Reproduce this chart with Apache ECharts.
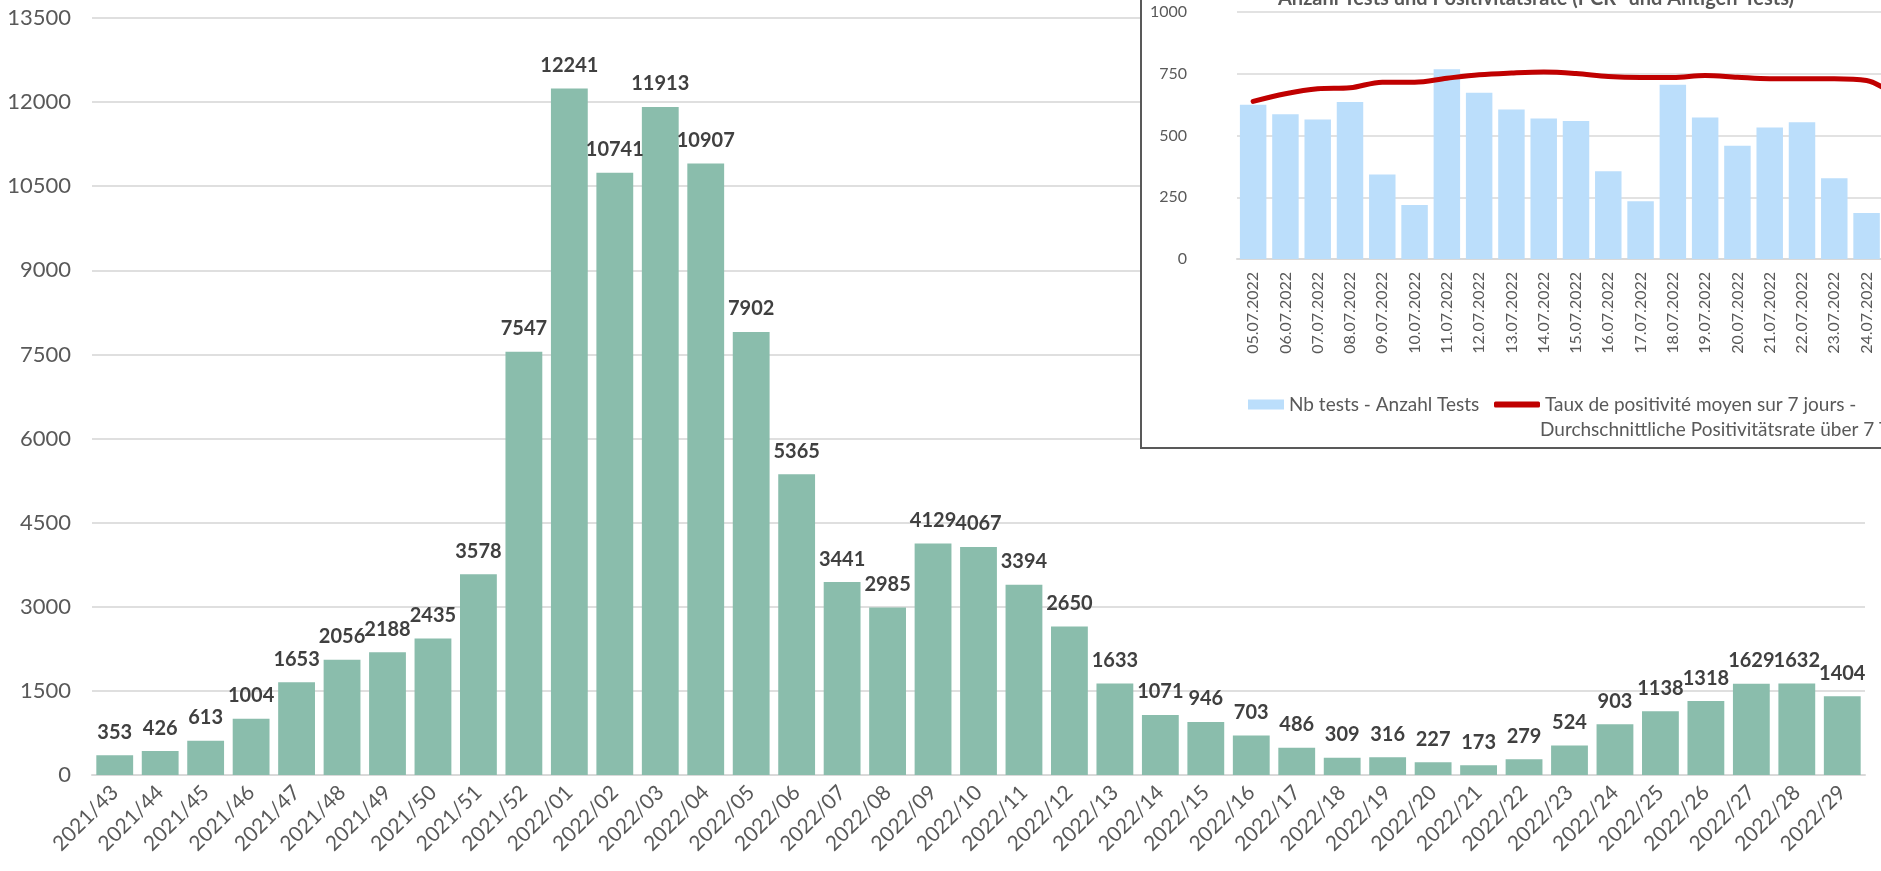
<!DOCTYPE html>
<html>
<head>
<meta charset="utf-8">
<script src="https://cdn.jsdelivr.net/npm/echarts@6/dist/echarts.min.js"></script>
<style>
  html, body { margin: 0; padding: 0; background: #fff; }
  #chart { width: 1881px; height: 871px; }
</style>
</head>
<body>
<div id="chart"></div>
<script>
const weeks = [
  '2021/43', '2021/44', '2021/45', '2021/46', '2021/47', '2021/48', '2021/49', '2021/50', '2021/51', '2021/52',
  '2022/01', '2022/02', '2022/03', '2022/04', '2022/05', '2022/06', '2022/07', '2022/08', '2022/09', '2022/10',
  '2022/11', '2022/12', '2022/13', '2022/14', '2022/15', '2022/16', '2022/17', '2022/18', '2022/19', '2022/20',
  '2022/21', '2022/22', '2022/23', '2022/24', '2022/25', '2022/26', '2022/27', '2022/28', '2022/29'
]
const weeklyCases = [
  353, 426, 613, 1004, 1653, 2056, 2188, 2435, 3578, 7547,
  12241, 10741, 11913, 10907, 7902, 5365, 3441, 2985, 4129, 4067,
  3394, 2650, 1633, 1071, 946, 703, 486, 309, 316, 227,
  173, 279, 524, 903, 1138, 1318, 1629, 1632, 1404
]
const mainTicks = [0, 1500, 3000, 4500, 6000, 7500, 9000, 10500, 12000, 13500]

// inset: daily tests and 7-day positivity (last day only partly visible)
const days = [
  '05.07.2022', '06.07.2022', '07.07.2022', '08.07.2022', '09.07.2022', '10.07.2022', '11.07.2022',
  '12.07.2022', '13.07.2022', '14.07.2022', '15.07.2022', '16.07.2022', '17.07.2022', '18.07.2022',
  '19.07.2022', '20.07.2022', '21.07.2022', '22.07.2022', '23.07.2022', '24.07.2022', '25.07.2022'
]
const dailyTests = [
  624, 586, 565, 636, 342, 219, 768, 673, 605, 569, 559,
  355, 234, 705, 573, 459, 532, 554, 327, 186, null
]
const positivity = [
  638, 669, 689, 693, 716, 716, 732, 746, 753, 757, 751,
  739, 735, 735, 743, 736, 730, 730, 730, 723, 650
]
const insetTicks = [0, 250, 500, 750, 1000]

const testsName = 'Nb tests - Anzahl Tests'
const rateName = 'Taux de positivité moyen sur 7 jours -\nDurchschnittliche Positivitätsrate über 7 Tage'
const rateLines = rateName.split('\n')

const font = 'Lato, "Open Sans", sans-serif'
const gray = '#595959'

const chart = echarts.init(document.getElementById('chart'))

const option = {
  backgroundColor: '#ffffff',
  animation: false,
  textStyle: { fontFamily: font },
  grid: [
    { left: 92, right: 16, top: 18, bottom: 96, outerBoundsMode: 'none' },
    { left: 1237, top: 12, height: 247, width: 678, outerBoundsMode: 'none' }
  ],
  xAxis: [
    {
      type: 'category',
      gridIndex: 0,
      data: weeks,
      axisTick: { show: false },
      axisLine: { lineStyle: { color: '#d9d9d9', width: 2 } },
      axisLabel: { rotate: 45, color: gray, fontSize: 21, margin: 14, interval: 0, fontFamily: font }
    },
    {
      type: 'category',
      gridIndex: 1,
      data: days,
      z: 3,
      axisTick: { show: false },
      axisLine: { lineStyle: { color: '#d9d9d9', width: 2 } },
      axisLabel: { rotate: 90, color: gray, fontSize: 16, margin: 13, interval: 0, fontFamily: font }
    }
  ],
  yAxis: [
    {
      type: 'value',
      gridIndex: 0,
      min: mainTicks[0],
      max: mainTicks[mainTicks.length - 1],
      interval: mainTicks[1] - mainTicks[0],
      axisLine: { show: false },
      axisTick: { show: false },
      axisLabel: { color: gray, fontSize: 22, margin: 21, fontFamily: font, formatter: v => String(v) },
      splitLine: { lineStyle: { color: '#d4d4d4', width: 1.5 } }
    },
    {
      type: 'value',
      gridIndex: 1,
      z: 3,
      min: insetTicks[0],
      max: insetTicks[insetTicks.length - 1],
      interval: insetTicks[1] - insetTicks[0],
      axisLine: { show: false },
      axisTick: { show: false },
      axisLabel: { color: gray, fontSize: 16, margin: 50, fontFamily: font, formatter: v => String(v) },
      splitLine: { lineStyle: { color: '#d9d9d9', width: 1.5 } }
    }
  ],
  legend: [
    {
      left: 1243,
      top: 390,
      z: 6,
      itemWidth: 36,
      itemHeight: 10,
      textStyle: { color: gray, fontSize: 19, fontFamily: font },
      data: [{ name: testsName, icon: 'rect' }]
    },
    {
      left: 1489,
      top: 390,
      z: 6,
      itemWidth: 46,
      itemHeight: 6,
      icon: 'roundRect',
      formatter: () => rateLines[0],
      textStyle: { color: gray, fontSize: 19, fontFamily: font },
      data: [{ name: rateName, itemStyle: { color: '#c00000' } }]
    }
  ],
  graphic: [
    {
      type: 'rect',
      z: 1,
      shape: { x: 1141, y: -10, width: 800, height: 458 },
      style: { fill: '#ffffff', stroke: '#595959', lineWidth: 2 }
    },
    {
      type: 'text',
      z: 6,
      x: 1278,
      y: -11,
      style: {
        text: 'Anzahl Tests und Positivitätsrate (PCR- und Antigen-Tests)',
        fill: gray,
        font: 'bold 20px ' + font
      }
    },
    {
      type: 'text',
      z: 6,
      x: 1540,
      y: 430,
      style: {
        text: rateLines[1],
        fill: gray,
        font: '19px ' + font,
        verticalAlign: 'middle'
      }
    }
  ],
  series: [
    {
      type: 'bar',
      name: 'Cas',
      xAxisIndex: 0,
      yAxisIndex: 0,
      data: weeklyCases,
      barCategoryGap: '19%',
      itemStyle: { color: '#8abdac' },
      label: {
        show: true,
        position: 'top',
        distance: 13,
        color: '#404040',
        fontWeight: 'bold',
        fontSize: 20,
        fontFamily: font
      }
    },
    {
      type: 'bar',
      name: testsName,
      xAxisIndex: 1,
      yAxisIndex: 1,
      z: 4,
      data: dailyTests,
      barCategoryGap: '18%',
      itemStyle: { color: '#bbdefb' }
    },
    {
      type: 'line',
      name: rateName,
      xAxisIndex: 1,
      yAxisIndex: 1,
      z: 5,
      data: positivity,
      smooth: 0.35,
      symbol: 'none',
      lineStyle: { color: '#c00000', width: 5, cap: 'round' },
      itemStyle: { color: '#c00000' }
    }
  ]
}

chart.setOption(option)
window.addEventListener('resize', () => chart.resize())
</script>
</body>
</html>
